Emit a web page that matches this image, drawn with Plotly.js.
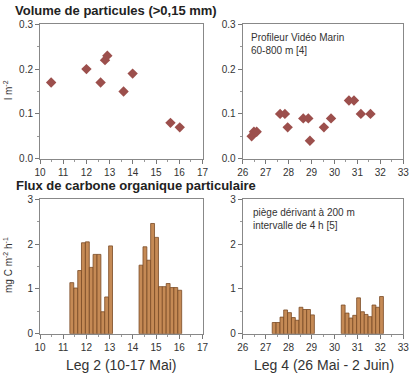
<!DOCTYPE html>
<html>
<head>
<meta charset="utf-8">
<script src="https://cdn.plot.ly/plotly-3.0.1.min.js"></script>
<style>html,body{margin:0;padding:0;background:#fff;}#chart{width:411px;height:378px;}</style>
</head>
<body>
<div id="chart"></div>
<script>
// Volume de particules, Leg 2
const volLeg2Day = [10.48, 12.0, 12.61, 12.80, 12.90, 13.6, 13.99, 15.62, 16.02];
const volLeg2Val = [0.17, 0.20, 0.17, 0.22, 0.23, 0.15, 0.19, 0.08, 0.07];
// Volume de particules, Leg 4
const volLeg4Day = [26.39, 26.49, 26.61, 27.63, 27.84, 27.96, 28.64, 28.86, 28.93, 29.54, 29.85, 30.63, 30.85, 31.15, 31.57];
const volLeg4Val = [0.05, 0.06, 0.06, 0.10, 0.10, 0.07, 0.09, 0.09, 0.04, 0.07, 0.09, 0.13, 0.13, 0.10, 0.10];
// Flux de carbone, Leg 2 (bins of 4 h, centres)
const fluxLeg2Day = [11.37, 11.54, 11.71, 11.87, 12.04, 12.21, 12.37, 12.54, 12.71, 12.87, 13.04,
                     14.35, 14.52, 14.69, 14.85, 15.02, 15.19, 15.35, 15.52, 15.69, 15.85, 16.02];
const fluxLeg2Val = [1.14, 1.02, 1.41, 2.03, 2.05, 1.48, 1.77, 1.77, 0.49, 0.82, 1.96,
                     1.53, 1.94, 1.64, 2.46, 2.15, 1.05, 1.05, 1.12, 1.03, 1.03, 0.97];
// Flux de carbone, Leg 4
const fluxLeg4Day = [27.37, 27.54, 27.71, 27.87, 28.04, 28.21, 28.37, 28.54, 28.71, 28.87, 29.04,
                     30.38, 30.55, 30.72, 30.88, 31.05, 31.22, 31.38, 31.55, 31.72, 31.88, 32.05];
const fluxLeg4Val = [0.25, 0.25, 0.37, 0.53, 0.47, 0.36, 0.30, 0.59, 0.54, 0.54, 0.42,
                     0.64, 0.46, 0.35, 0.41, 0.80, 0.49, 0.43, 0.38, 0.64, 0.59, 0.83];

const xTicksLeg2 = [10, 11, 12, 13, 14, 15, 16, 17];
const xTicksLeg4 = [26, 27, 28, 29, 30, 31, 32, 33];
const yTicksVol = [0, 0.1, 0.2, 0.3];
const yTickTextVol = ['0.0', '0.1', '0.2', '0.3'];
const yTicksFlux = [0, 1, 2, 3];

const titleTop = 'Volume de particules (>0,15 mm)';
const titleBottom = 'Flux de carbone organique particulaire';
const yTitleTop = 'l m<sup>-2</sup>';
const yTitleBottom = 'mg C m<sup>-2</sup> h<sup>-1</sup>';
const xTitleLeft = 'Leg 2 (10-17 Mai)';
const xTitleRight = 'Leg 4 (26 Mai - 2 Juin)';
const noteTop = 'Profileur Vidéo Marin<br>60-800 m [4]';
const noteBottom = 'piège dérivant à 200 m<br>intervalle de 4 h [5]';

const FONT = 'Liberation Sans, Arial, sans-serif';
const markerStyle = {symbol: 'diamond', size: 8, color: '#9c4f4c', line: {width: 0}};
const barStyle = {color: '#c58a55', line: {color: '#7a4a24', width: 0.8}};

const traces = [
  {x: volLeg2Day, y: volLeg2Val, type: 'scatter', mode: 'markers', marker: markerStyle, xaxis: 'x', yaxis: 'y', cliponaxis: false},
  {x: volLeg4Day, y: volLeg4Val, type: 'scatter', mode: 'markers', marker: markerStyle, xaxis: 'x2', yaxis: 'y2', cliponaxis: false},
  {x: fluxLeg2Day, y: fluxLeg2Val, type: 'bar', width: 1/6, marker: barStyle, xaxis: 'x3', yaxis: 'y3'},
  {x: fluxLeg4Day, y: fluxLeg4Val, type: 'bar', width: 1/6, marker: barStyle, xaxis: 'x4', yaxis: 'y4'}
];

function xa(domain, ticks, anchor) {
  return {domain: domain, anchor: anchor, range: [ticks[0], ticks[ticks.length - 1]],
    tickvals: ticks, ticks: 'outside', ticklen: 4, tickcolor: '#777', showline: true, linecolor: '#888', linewidth: 1,
    mirror: true, showgrid: false, zeroline: false, tickfont: {size: 10, color: '#333', family: FONT},
    minor: {dtick: 0.5, ticks: 'outside', ticklen: 2, tickcolor: '#999', showgrid: false}, fixedrange: true};
}
function ya(domain, ticks, text, anchor, minorStep) {
  return {domain: domain, anchor: anchor, range: [ticks[0], ticks[ticks.length - 1]],
    tickvals: ticks, ticktext: text, ticks: 'outside', ticklen: 4, tickcolor: '#777', showline: true, linecolor: '#888', linewidth: 1,
    mirror: true, showgrid: false, zeroline: false, tickfont: {size: 10, color: '#333', family: FONT},
    minor: {dtick: minorStep, ticks: 'outside', ticklen: 2, tickcolor: '#999', showgrid: false}, fixedrange: true};
}

const dL = [40 / 411, 202.5 / 411];
const dR = [242.7 / 411, 403.3 / 411];
const dTop = [1 - 158.7 / 378, 1 - 24.3 / 378];
const dBot = [1 - 333.7 / 378, 1 - 199.3 / 378];

const layout = {
  width: 411, height: 378, autosize: false,
  margin: {l: 0, r: 0, t: 0, b: 0},
  paper_bgcolor: '#fff', plot_bgcolor: '#fff',
  showlegend: false, bargap: 0,
  font: {family: FONT, color: '#333'},
  xaxis: xa(dL, xTicksLeg2, 'y'),
  yaxis: ya(dTop, yTicksVol, yTickTextVol, 'x', 0.05),
  xaxis2: xa(dR, xTicksLeg4, 'y2'),
  yaxis2: ya(dTop, yTicksVol, yTickTextVol, 'x2', 0.05),
  xaxis3: xa(dL, xTicksLeg2, 'y3'),
  yaxis3: ya(dBot, yTicksFlux, yTicksFlux.map(String), 'x3', 0.5),
  xaxis4: xa(dR, xTicksLeg4, 'y4'),
  yaxis4: ya(dBot, yTicksFlux, yTicksFlux.map(String), 'x4', 0.5),
  annotations: [
    {text: '<b>' + titleTop + '</b>', xref: 'paper', yref: 'paper', x: 13 / 411, y: 1 - 10 / 378, xanchor: 'left', yanchor: 'middle', showarrow: false, font: {size: 13, color: '#222', family: FONT}},
    {text: '<b>' + titleBottom + '</b>', xref: 'paper', yref: 'paper', x: 14 / 411, y: 1 - 185 / 378, xanchor: 'left', yanchor: 'middle', showarrow: false, font: {size: 13, color: '#222', family: FONT}},
    {text: yTitleTop, xref: 'paper', yref: 'paper', x: 8 / 411, y: 1 - 90 / 378, xanchor: 'center', yanchor: 'middle', textangle: -90, showarrow: false, font: {size: 10, color: '#333', family: FONT}},
    {text: yTitleBottom, xref: 'paper', yref: 'paper', x: 8 / 411, y: 1 - 265 / 378, xanchor: 'center', yanchor: 'middle', textangle: -90, showarrow: false, font: {size: 10, color: '#333', family: FONT}},
    {text: xTitleLeft, xref: 'paper', yref: 'paper', x: 121.5 / 411, y: 1 - 365 / 378, xanchor: 'center', yanchor: 'middle', showarrow: false, font: {size: 14, color: '#333', family: FONT}},
    {text: xTitleRight, xref: 'paper', yref: 'paper', x: 324 / 411, y: 1 - 365 / 378, xanchor: 'center', yanchor: 'middle', showarrow: false, font: {size: 14, color: '#333', family: FONT}},
    {text: noteTop, xref: 'paper', yref: 'paper', x: 249 / 411, y: 1 - 30 / 378, xanchor: 'left', yanchor: 'top', align: 'left', showarrow: false, font: {size: 10, color: '#333', family: FONT}},
    {text: noteBottom, xref: 'paper', yref: 'paper', x: 251 / 411, y: 1 - 205 / 378, xanchor: 'left', yanchor: 'top', align: 'left', showarrow: false, font: {size: 10, color: '#333', family: FONT}}
  ]
};

Plotly.newPlot('chart', traces, layout, {staticPlot: true, displayModeBar: false});
</script>
</body>
</html>
